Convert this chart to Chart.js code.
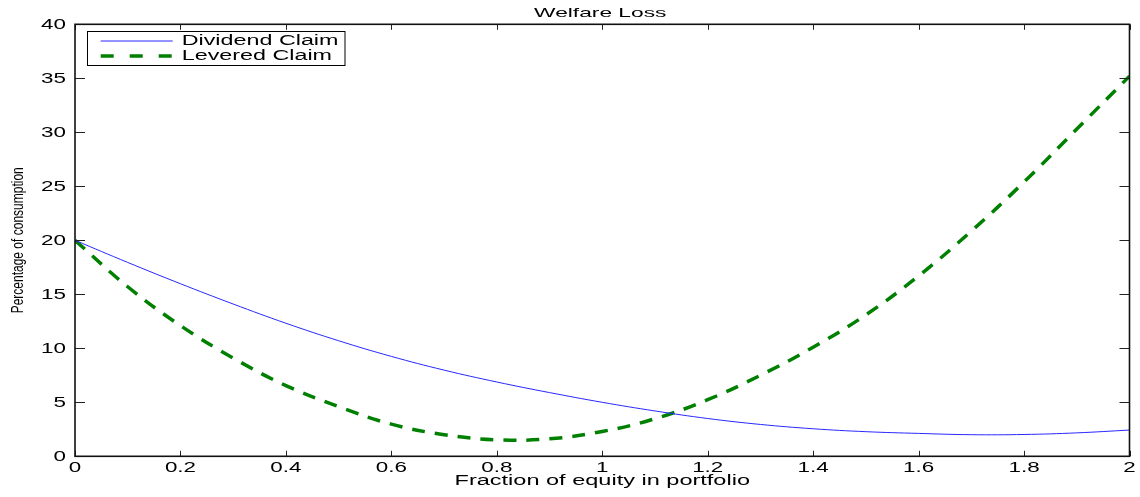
<!DOCTYPE html>
<html>
<head>
<meta charset="utf-8">
<title>Welfare Loss</title>
<script src="https://cdn.jsdelivr.net/npm/chart.js@4"></script>
<style>
  html, body { margin: 0; padding: 0; background: #fff; }
  #wrap { width: 1140px; height: 497px; position: relative; }
</style>
</head>
<body>
<div id="wrap"><canvas id="welfareChart"></canvas></div>
<script>
// data
const titleText = 'Welfare Loss';
const xTitle = 'Fraction of equity in portfolio';
const yTitle = 'Percentage of consumption';

const equityShare = [0, 0.1, 0.2, 0.3, 0.4, 0.5, 0.6, 0.7, 0.8, 0.9, 1.0,
                     1.1, 1.2, 1.3, 1.4, 1.5, 1.6, 1.7, 1.8, 1.9, 2.0];
const dividendClaim = [20, 17.95, 15.98, 14.1, 12.32, 10.7, 9.25, 7.98, 6.88, 5.9, 5.0,
                       4.2, 3.5, 2.95, 2.55, 2.28, 2.12, 2.0, 2.02, 2.17, 2.43];
const leveredClaim = [20, 15.7, 12.1, 9.1, 6.55, 4.6, 2.98, 2.0, 1.53, 1.62, 2.3,
                      3.48, 5.24, 7.5, 10.1, 13.1, 16.7, 20.85, 25.4, 30.3, 35.2];

const xTickValues = [0, 0.2, 0.4, 0.6, 0.8, 1, 1.2, 1.4, 1.6, 1.8, 2];
const xTickLabels = ['0', '0.2', '0.4', '0.6', '0.8', '1', '1.2', '1.4', '1.6', '1.8', '2'];
const yTickValues = [0, 5, 10, 15, 20, 25, 30, 35, 40];
const yTickLabels = ['0', '5', '10', '15', '20', '25', '30', '35', '40'];

const FONT = "'Liberation Sans', Arial, Helvetica, sans-serif";

//text in the original is stretched sideways, so draw it scaled
function wideText(ctx, text, px, py, sx, align, baseline) {
  ctx.save();
  ctx.translate(px, py);
  ctx.scale(sx, 1);
  ctx.textAlign = align;
  ctx.textBaseline = baseline;
  ctx.fillText(text, 0, 0);
  ctx.restore();
}

//matlab style box, inward ticks, labels and legend
const matlabAxes = {
  id: 'matlabAxes',
  afterDraw(chart) {
    const { ctx, chartArea: a, scales: { x, y } } = chart;
    ctx.save();

    //ticks
    ctx.strokeStyle = '#222';
    ctx.lineWidth = 1;
    ctx.beginPath();
    xTickValues.forEach(v => {
      const px = Math.round(x.getPixelForValue(v)) + 0.5;
      ctx.moveTo(px, a.bottom); ctx.lineTo(px, a.bottom - 5.5);
      ctx.moveTo(px, a.top); ctx.lineTo(px, a.top + 5.5);
    });
    yTickValues.forEach(v => {
      const py = Math.round(y.getPixelForValue(v)) + 0.5;
      ctx.moveTo(a.left, py); ctx.lineTo(a.left + 10, py);
      ctx.moveTo(a.right, py); ctx.lineTo(a.right - 10, py);
    });
    ctx.stroke();

    //box
    ctx.strokeStyle = '#111';
    ctx.lineWidth = 1.6;
    ctx.strokeRect(a.left, a.top, a.right - a.left, a.bottom - a.top);

    //tick labels
    ctx.fillStyle = '#000';
    ctx.font = '14px ' + FONT;
    xTickValues.forEach((v, i) => {
      wideText(ctx, xTickLabels[i], x.getPixelForValue(v), a.bottom + 15.5, 1.6, 'center', 'alphabetic');
    });
    yTickValues.forEach((v, i) => {
      wideText(ctx, yTickLabels[i], a.left - 9, y.getPixelForValue(v) + 0.5, 1.6, 'right', 'middle');
    });

    //title and axis titles
    ctx.font = '13px ' + FONT;
    wideText(ctx, titleText, (a.left + a.right) / 2 - 2, 16.7, 1.75, 'center', 'alphabetic');
    ctx.font = '14px ' + FONT;
    wideText(ctx, xTitle, (a.left + a.right) / 2, a.bottom + 28.7, 1.68, 'center', 'alphabetic');

    ctx.save();
    ctx.translate(23, (a.top + a.bottom) / 2);
    ctx.rotate(-Math.PI / 2);
    ctx.scale(1, 1.45);
    ctx.font = '12px ' + FONT;
    ctx.textAlign = 'center';
    ctx.textBaseline = 'alphabetic';
    ctx.fillText(yTitle, 0, 0);
    ctx.restore();

    //legend
    const lx = 87.5, ly = 31.5, lw = 257.5, lh = 34;
    ctx.fillStyle = '#fff';
    ctx.fillRect(lx, ly, lw, lh);
    ctx.strokeStyle = '#000';
    ctx.lineWidth = 1;
    ctx.strokeRect(lx, ly, lw, lh);
    chart.data.datasets.forEach((ds, i) => {
      const rowY = 41 + i * 15;
      ctx.save();
      ctx.strokeStyle = ds.borderColor;
      ctx.lineWidth = ds.borderWidth;
      ctx.setLineDash(ds.borderDash && ds.borderDash.length ? [13, 16] : []);
      ctx.beginPath();
      ctx.moveTo(100.7, rowY);
      ctx.lineTo(172.7, rowY);
      ctx.stroke();
      ctx.restore();
      ctx.fillStyle = '#000';
      ctx.font = '14px ' + FONT;
      wideText(ctx, ds.label, 181.7, rowY + 0.5, 1.665, 'left', 'middle');
    });

    ctx.restore();
  }
};

const ctx = document.getElementById('welfareChart').getContext('2d');
const welfareChart = new Chart(ctx, {
  type: 'line',
  data: {
    datasets: [
      {
        label: 'Dividend Claim',
        data: equityShare.map((v, i) => ({ x: v, y: dividendClaim[i] })),
        borderColor: 'rgb(40, 40, 255)',
        borderWidth: 1,
        pointRadius: 0,
        tension: 0.4,
        fill: false
      },
      {
        label: 'Levered Claim',
        data: equityShare.map((v, i) => ({ x: v, y: leveredClaim[i] })),
        borderColor: 'rgb(0, 128, 0)',
        borderWidth: 3.5,
        borderDash: [13, 10],
        borderCapStyle: 'butt',
        pointRadius: 0,
        tension: 0.4,
        fill: false
      }
    ]
  },
  options: {
    responsive: true,
    maintainAspectRatio: false,
    devicePixelRatio: 1,
    animation: false,
    layout: { padding: { left: 75, right: 10.5, top: 24.3, bottom: 40.7 } },
    scales: {
      x: { type: 'linear', min: 0, max: 2, display: false },
      y: { type: 'linear', min: 0, max: 40, display: false }
    },
    plugins: {
      legend: { display: false },
      title: { display: false },
      tooltip: { enabled: false }
    }
  },
  plugins: [matlabAxes]
});
</script>
</body>
</html>
